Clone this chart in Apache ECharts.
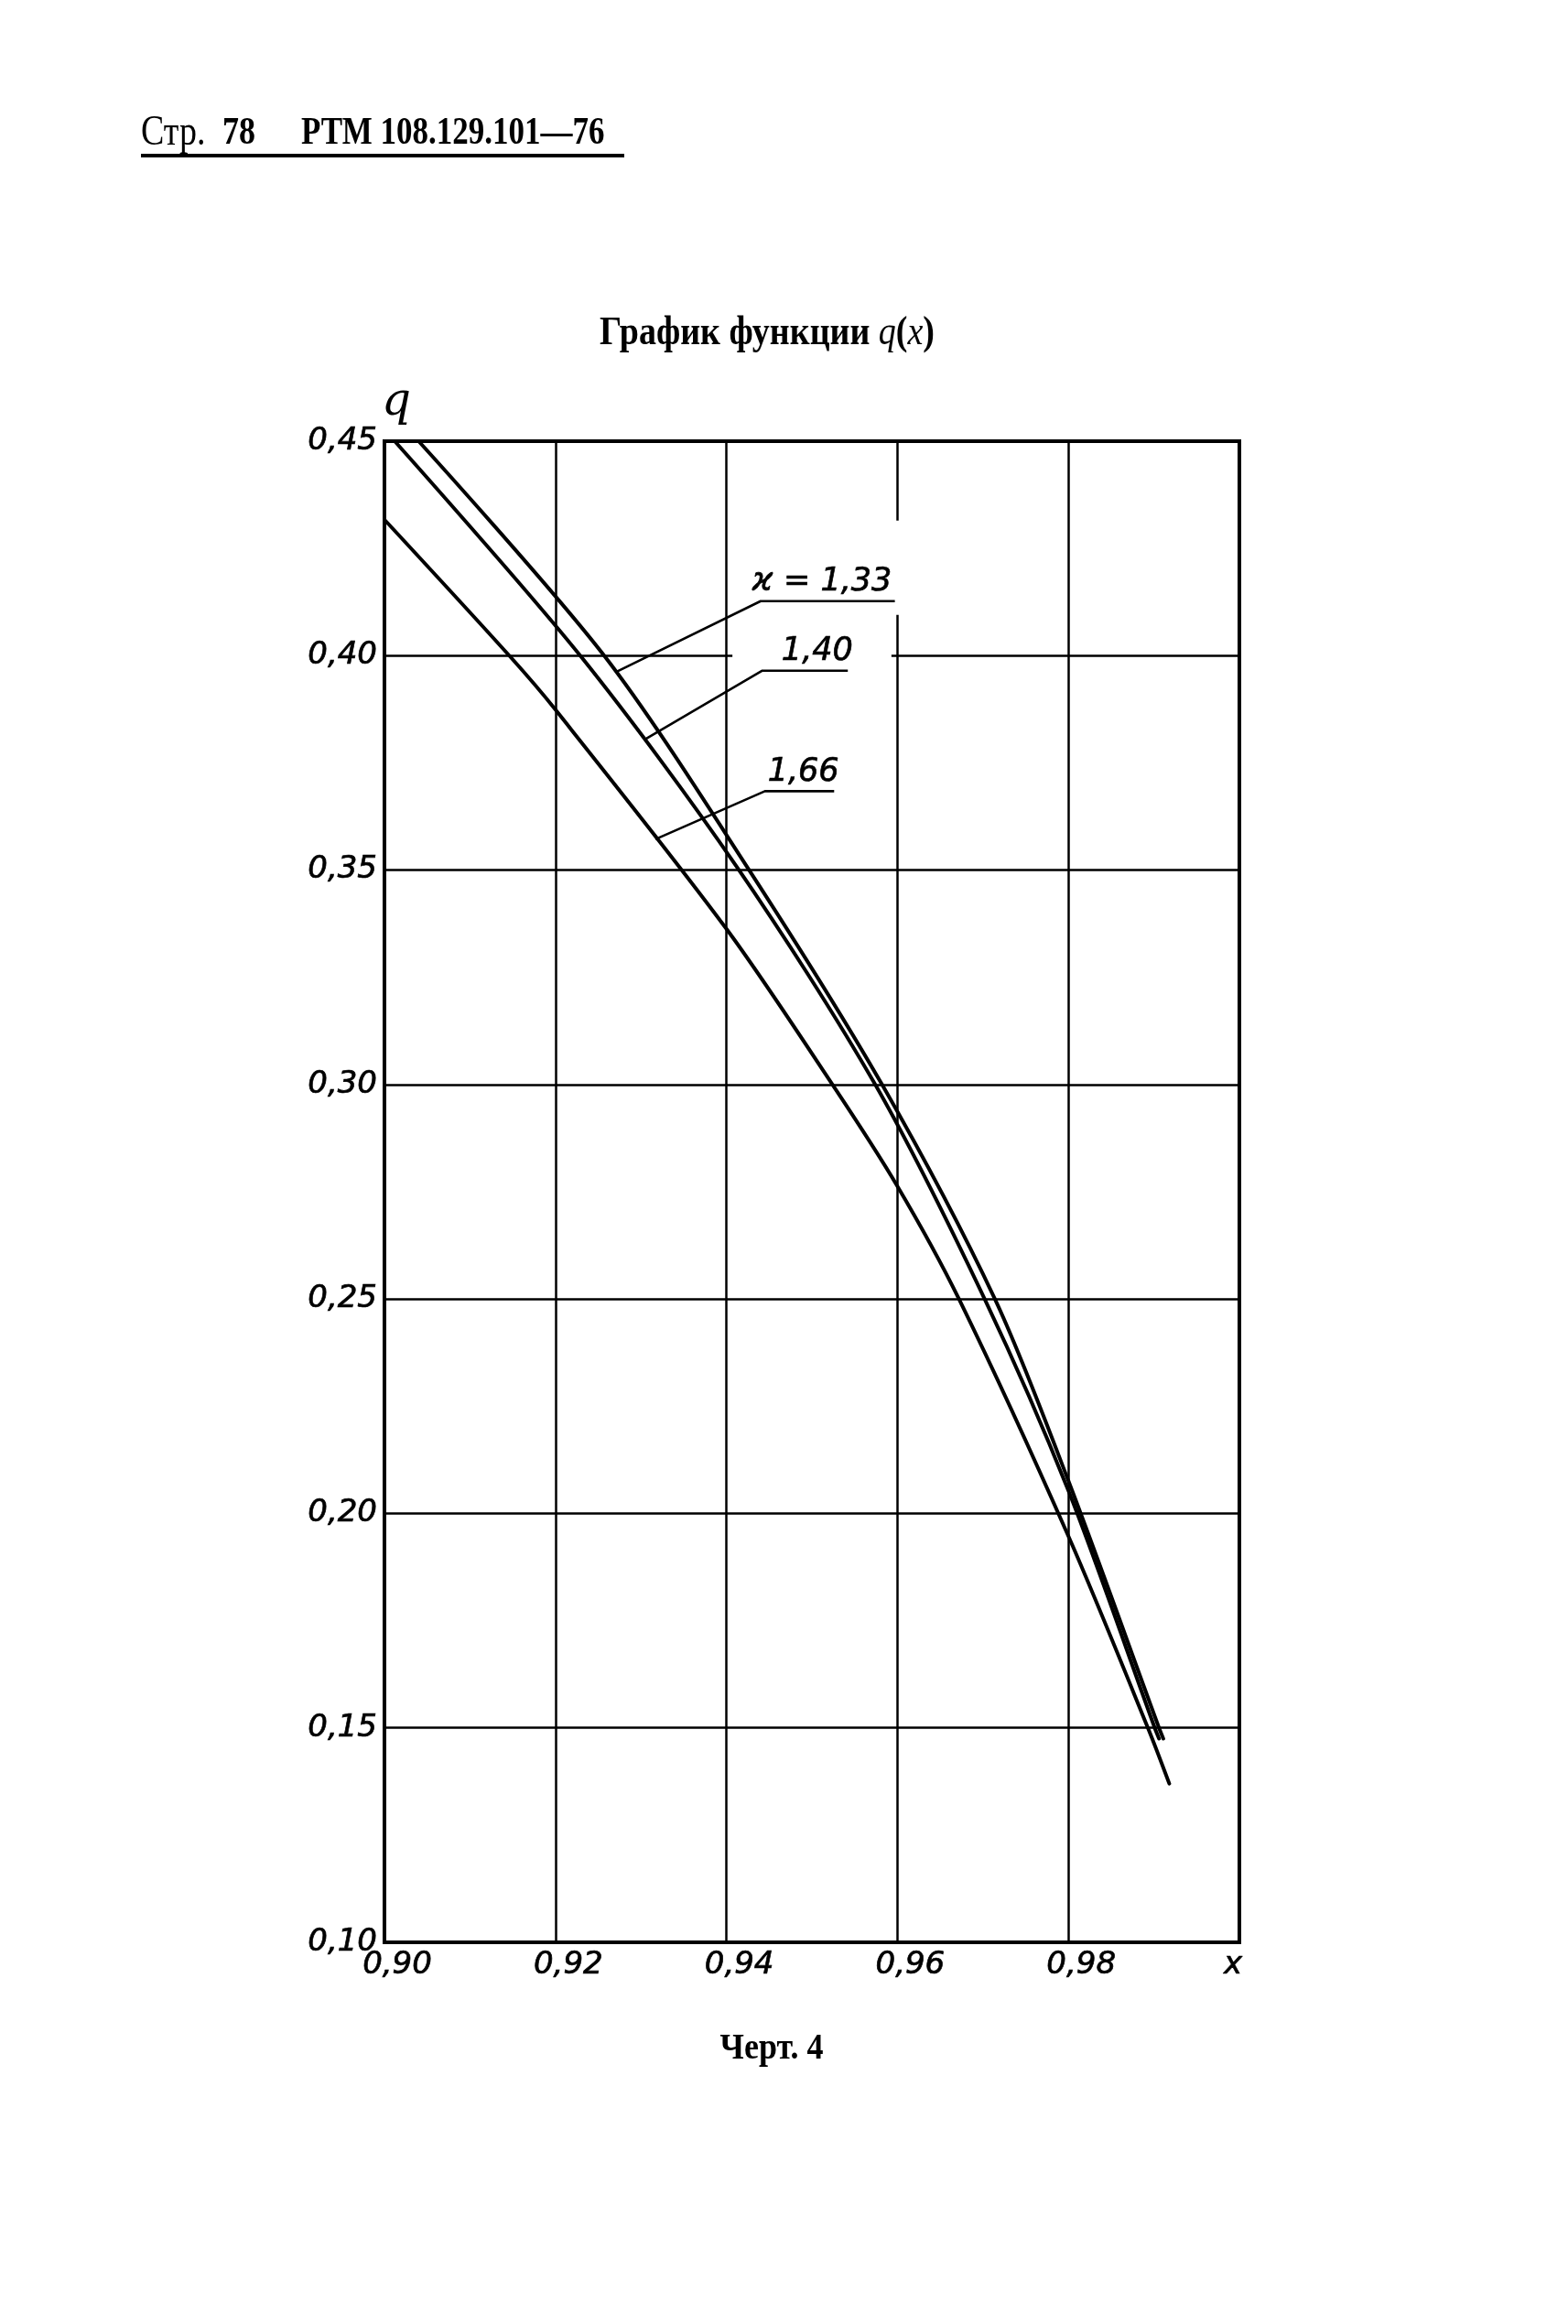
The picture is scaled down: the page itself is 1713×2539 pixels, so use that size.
<!DOCTYPE html>
<html><head><meta charset="utf-8">
<script src="https://cdn.jsdelivr.net/npm/echarts@6/dist/echarts.min.js"></script>
<style>html,body{margin:0;padding:0;background:#fff}#c{width:1713px;height:2539px}</style>
</head><body><div id="c"></div>
<script>
// ---- data ----
const xTickValues = [0.90, 0.92, 0.94, 0.96, 0.98];
const yTickValues = [0.10, 0.15, 0.20, 0.25, 0.30, 0.35, 0.40, 0.45];

const seriesNames = ['ϰ = 1,33', '1,40', '1,66'];

const x133 = [0.9040, 0.9257, 0.9424, 0.9582, 0.9714, 0.9800, 0.9906, 0.9911];
const q133 = [0.4500, 0.4000, 0.3508, 0.3000, 0.2500, 0.2076, 0.1500, 0.1475];

const x140 = [0.9012, 0.9229, 0.9412, 0.9574, 0.9702, 0.9800, 0.9901, 0.9906];
const q140 = [0.4500, 0.4000, 0.3508, 0.3000, 0.2500, 0.2053, 0.1500, 0.1475];

const x166 = [0.9000, 0.9146, 0.9200, 0.9400, 0.9524, 0.9600, 0.9672, 0.9800, 0.9893, 0.9918];
const q166 = [0.4317, 0.4000, 0.3874, 0.3363, 0.3000, 0.2763, 0.2500, 0.1947, 0.1500, 0.1370];

// leader lines: [point on curve, knee, end of underline]
const leader133 = [[0.9271, 0.3962], [0.9440, 0.4127], [0.9597, 0.4127]];
const leader140 = [[0.9305, 0.3805], [0.9442, 0.3965], [0.9542, 0.3965]];
const leader166 = [[0.9317, 0.3572], [0.9445, 0.3684], [0.9526, 0.3684]];

// ---- build ----
const zip = (xs, ys) => xs.map((x, i) => [x, ys[i]]);
const fmt = v => v.toFixed(2).replace('.', ',');
const numFont = 'DejaVu Sans';

const curveStyle = {color: '#000', width: 4, cap: 'round', join: 'round'};
function curve(name, data) {
  return {type: 'line', name, data, symbol: 'none', smooth: 0.3,
    lineStyle: curveStyle, z: 4, silent: true, clip: true};
}
function leader(pts) {
  return {type: 'line', data: pts, symbol: 'none', smooth: false,
    lineStyle: {color: '#000', width: 2.6}, z: 5, silent: true};
}
const labelOffsets = [67, 60, 42];
const knees = [leader133[1], leader140[1], leader166[1]];
const labelSeries = {
  type: 'custom', z: 6, silent: true,
  data: knees.map((p, i) => [p[0], p[1], i]),
  renderItem: (params, api) => {
    const i = api.value(2);
    const pt = api.coord([api.value(0), api.value(1)]);
    return {
      type: 'text', x: pt[0] + labelOffsets[i], y: pt[1] - 3,
      style: {text: seriesNames[i], font: 'italic 35px "DejaVu Sans"', fill: '#000',
        stroke: '#000', lineWidth: 0.7, align: 'center', verticalAlign: 'bottom'}
    };
  }
};

const chart = echarts.init(document.getElementById('c'), null, {renderer: 'canvas'});
chart.setOption({
  animation: false,
  backgroundColor: '#fff',
  grid: {left: 420, top: 482, width: 934, height: 1640, show: true,
         borderColor: '#000', borderWidth: 4, backgroundColor: 'transparent'},
  xAxis: {
    type: 'value', min: 0.90, max: 1.00, interval: 0.02,
    axisLine: {show: true, onZero: false, lineStyle: {color: '#000', width: 4}},
    axisTick: {show: false},
    splitLine: {show: true, lineStyle: {color: '#000', width: 2.5}},
    axisLabel: {
      margin: 8, showMaxLabel: true, showMinLabel: true,
      formatter: v => Math.abs(v - 1) < 1e-9 ? '{b|x}' : '{a|' + fmt(v) + '}',
      rich: {
        a: {fontFamily: numFont, fontStyle: 'italic', fontSize: 34, color: '#000', padding: [0, 0, 0, 28],
            textBorderColor: '#000', textBorderWidth: 0.7},
        b: {fontFamily: numFont, fontStyle: 'italic', fontSize: 34, color: '#000', padding: [0, 14, 0, 0],
            textBorderColor: '#000', textBorderWidth: 0.7}
      }
    }
  },
  yAxis: {
    type: 'value', min: 0.10, max: 0.45, interval: 0.05,
    name: 'q', nameLocation: 'end', nameGap: 16,
    nameTextStyle: {fontFamily: 'DejaVu Serif', fontStyle: 'italic', fontSize: 50, color: '#000', padding: [0, 0, 0, 26]},
    axisLine: {show: true, onZero: false, lineStyle: {color: '#000', width: 4}},
    axisTick: {show: false},
    splitLine: {show: true, lineStyle: {color: '#000', width: 2.5}},
    axisLabel: {margin: 8, formatter: v => fmt(v), fontFamily: numFont, fontStyle: 'italic',
      fontSize: 34, color: '#000', padding: [0, 0, 16, 0], textBorderColor: '#000', textBorderWidth: 0.7}
  },
  series: [
    {type: 'line', data: [], z: 1, silent: true,
     markArea: {silent: true, itemStyle: {color: '#fff', borderWidth: 0},
       data: [
         [{coord: [0.9407, 0.3975]}, {coord: [0.9593, 0.4025]}],
         [{coord: [0.9592, 0.4095]}, {coord: [0.9608, 0.4315]}]
       ]}},
    curve(seriesNames[0], zip(x133, q133)),
    curve(seriesNames[1], zip(x140, q140)),
    curve(seriesNames[2], zip(x166, q166)),
    leader(leader133),
    leader(leader140),
    leader(leader166),
    labelSeries
  ],
  graphic: [
    {type: 'text', x: 154, y: 146, scaleY: 1.2, style: {text: 'Стр.', font: '38px "Liberation Serif"', fill: '#000', align: 'left', verticalAlign: 'middle'}},
    {type: 'text', x: 243, y: 146, scaleY: 1.2, style: {text: '78', font: 'bold 36px "Liberation Serif"', fill: '#000', align: 'left', verticalAlign: 'middle'}},
    {type: 'text', x: 329, y: 146, scaleY: 1.2, style: {text: 'РТМ 108.129.101—76', font: 'bold 35px "Liberation Serif"', fill: '#000', align: 'left', verticalAlign: 'middle'}},
    {type: 'rect', shape: {x: 154, y: 168, width: 528, height: 4}, style: {fill: '#000'}},
    {type: 'text', x: 838, y: 365, scaleY: 1.15, style: {
      text: '{b|График функции }{i|q}{b|(}{i|x}{b|)}',
      rich: {b: {font: 'bold 38px "Liberation Serif"', fill: '#000'},
             i: {font: 'italic 38px "Liberation Serif"', fill: '#000'}},
      align: 'center', verticalAlign: 'middle', fill: '#000'}},
    {type: 'text', x: 843, y: 2239, scaleY: 1.1, style: {text: 'Черт. 4', font: 'bold 36px "Liberation Serif"', fill: '#000', align: 'center', verticalAlign: 'middle'}}
  ]
});
</script></body></html>
